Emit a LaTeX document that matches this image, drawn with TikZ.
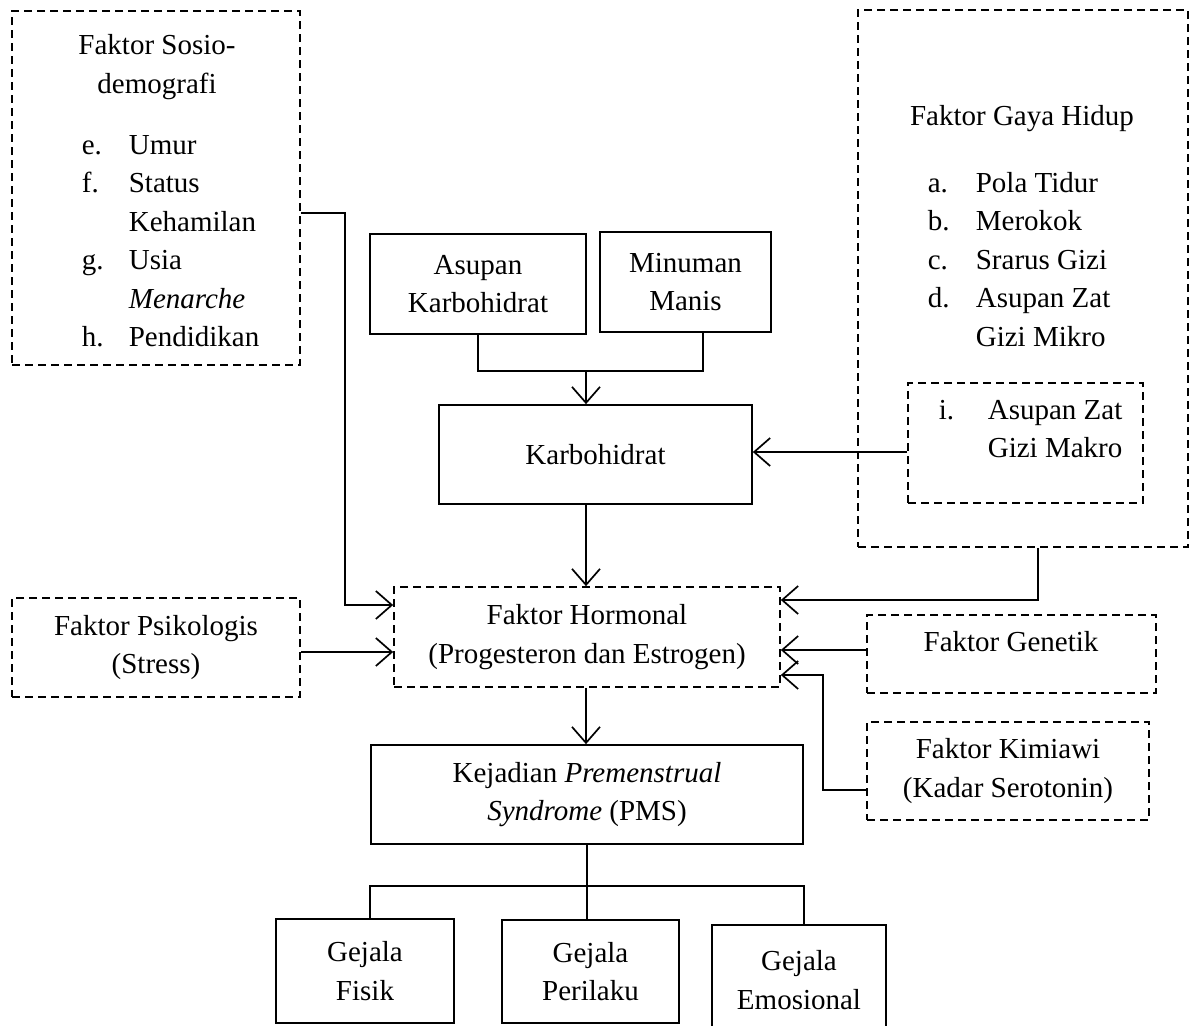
\documentclass[tikz,border=0pt]{standalone}
\usepackage{fontspec}
\setmainfont{Liberation Serif}
\usetikzlibrary{arrows.meta}

\begin{document}
\begin{tikzpicture}[x=1pt,y=-1pt,line width=1.7pt,
  every node/.style={font=\fontsize{29}{38.4}\selectfont},
  box/.style={draw,inner sep=0pt,align=center},
  dbox/.style={box,dash pattern=on 8pt off 5pt},
  txt/.style={inner sep=0pt,align=center},
  arr/.style={-{Straight Barb[length=16pt,width=28pt]}}]
  \useasboundingbox (0,0) rectangle (1195,1026);

  % Dashed boxes
  \node[dbox,minimum width=288,minimum height=354] (sosio) at (156,188) {};
  \node[dbox,minimum width=330,minimum height=537] (gaya) at (1023,278.5) {};
  \node[dbox,minimum width=235,minimum height=120] (makro) at (1025.5,443) {};
  \node[dbox,minimum width=386,minimum height=100] (hormon) at (587,637)
    {Faktor Hormonal\\(Progesteron dan Estrogen)};
  \node[dbox,minimum width=288,minimum height=99] (psiko) at (156,647.5)
    {Faktor Psikologis\\(Stress)};
  \node[dbox,minimum width=289,minimum height=78] (genetik) at (1011.5,654) {};
  \node[dbox,minimum width=282,minimum height=98] (kimia) at (1008,771)
    {Faktor Kimiawi\\(Kadar Serotonin)};

  % Solid boxes
  \node[box,minimum width=216,minimum height=100] (asupan) at (478,284)
    {Asupan\\Karbohidrat};
  \node[box,minimum width=171,minimum height=100] (minuman) at (685.5,282)
    {Minuman\\Manis};
  \node[box,minimum width=313,minimum height=99] (karbo) at (595.5,454.5)
    {Karbohidrat};
  \node[box,minimum width=432,minimum height=99] (pms) at (587,794.5)
    {Kejadian \textit{Premenstrual}\\\textit{Syndrome} (PMS)};
  \node[box,minimum width=178,minimum height=104] (fisik) at (365,971)
    {Gejala\\Fisik};
  \node[box,minimum width=177,minimum height=103] (perilaku) at (590.5,971.5)
    {Gejala\\Perilaku};
  \node[box,minimum width=174,minimum height=110] (emosi) at (799,980)
    {Gejala\\Emosional};

  % Texts in the dashed boxes
  \node[txt] (sosiotitle) at (157,67) {Faktor Sosio-\\demografi};
  \node[txt,anchor=base west] (sosiolist) at (81,154.5)
    {\begin{tabular}[t]{@{}p{47pt}@{}l@{}}
      e. & Umur\\ f. & Status\\ & Kehamilan\\ g. & Usia\\
      & \textit{Menarche}\\ h. & Pendidikan
    \end{tabular}};
  \node[txt] (gayatitle) at (1022,119) {Faktor Gaya Hidup};
  \node[txt,anchor=base west] (gayalist) at (927,192.5)
    {\begin{tabular}[t]{@{}p{48pt}@{}l@{}}
      a. & Pola Tidur\\ b. & Merokok\\ c. & Srarus Gizi\\
      d. & Asupan Zat\\ & Gizi Mikro
    \end{tabular}};
  \node[txt,anchor=base west] (makrolist) at (938,419.5)
    {\begin{tabular}[t]{@{}p{49pt}@{}l@{}}
      i. & Asupan Zat\\ & Gizi Makro
    \end{tabular}};
  \node[txt] (genetiktxt) at (1011,642) {Faktor Genetik};

  % Connectors
  \draw (asupan.south) -- ++(0,36) -| (minuman.south -| 703,0);
  \draw[arr] (586,370) -- (karbo.north -| 586,0);
  \draw[arr] (makro.west |- 0,452) -- (karbo.east |- 0,452);
  \draw[arr] (karbo.south -| 586,0) -- (hormon.north -| 586,0);
  \draw[arr] (sosio.east |- 0,213) -- (345,213) -- (345,605) -- (hormon.west |- 0,605);
  \draw[arr] (psiko.east |- 0,652) -- (hormon.west |- 0,652);
  \draw[arr] (gaya.south -| 1038,0) |- (hormon.east |- 0,600);
  \draw[arr] (genetik.west |- 0,650) -- (hormon.east |- 0,650);
  \draw[arr] (kimia.west |- 0,790) -| (823,675) -- (hormon.east |- 0,675);
  \draw[arr] (hormon.south -| 586,0) -- (pms.north -| 586,0);

  \draw (pms.south) -- ++(0,41) coordinate (bj);
  \draw (fisik.north -| pms.west) |- (bj) -| (emosi.north -| pms.east);
  \draw (bj) -- (perilaku.north -| bj);
\end{tikzpicture}
\end{document}
